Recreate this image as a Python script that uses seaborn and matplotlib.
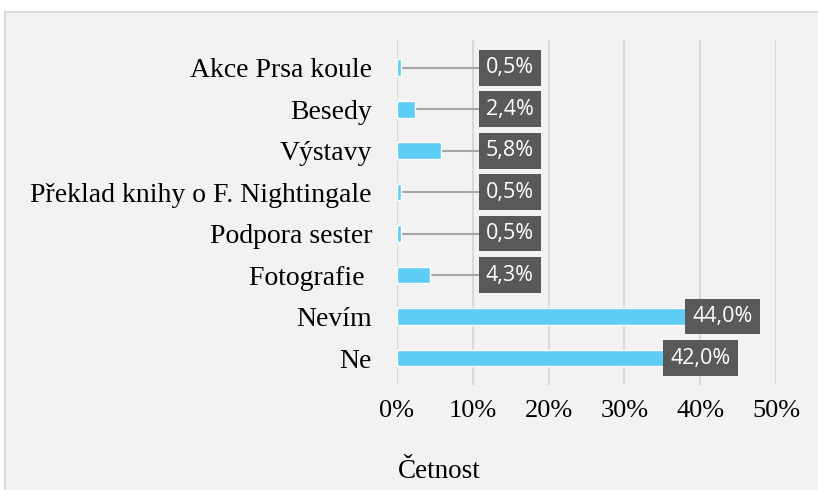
import matplotlib
matplotlib.use('Agg')
import matplotlib.pyplot as plt
import matplotlib.patches as patches
import pandas as pd
import seaborn as sns

categories = ['Akce Prsa koule', 'Besedy', 'Výstavy', 'Překlad knihy o F. Nightingale',
              'Podpora sester', 'Fotografie ', 'Nevím', 'Ne']
values = [0.5, 2.4, 5.8, 0.5, 0.5, 4.3, 44.0, 42.0]
x_ticks = [0, 10, 20, 30, 40, 50]

df = pd.DataFrame({'kategorie': categories, 'podil': values})

sns.set_theme(style='white')
plt.rcParams['font.family'] = ['Liberation Serif', 'DejaVu Serif']

fig = plt.figure(figsize=(8.18, 4.9), dpi=100)
fig.patch.set_facecolor('white')
# chart area background with border (cut off at right/bottom like the source)
fig.patches.append(patches.Rectangle((5 / 818, -0.1), 1.1, 1 - 12 / 490 + 0.1,
                                     transform=fig.transFigure, facecolor='#F2F2F2',
                                     edgecolor='#D9D9D9', linewidth=1.5, zorder=-5))

ax = fig.add_axes([397 / 818, 105 / 490, (776 - 397) / 818, (450 - 105) / 490])
ax.patch.set_alpha(0)

sns.barplot(data=df, x='podil', y='kategorie', order=categories, color='#5ECDF4',
            saturation=1, width=0.4, ax=ax, zorder=3)

ax.set_xlim(0, 50)
ax.set_ylim(7.65, -0.67)
ax.set_xticks(x_ticks)
ax.set_xticklabels([f'{t}%' for t in x_ticks])
ax.grid(axis='x', color='#D9D9D9', linewidth=1.6, zorder=0)
ax.set_axisbelow(True)
for s in ax.spines.values():
    s.set_visible(False)
ax.tick_params(axis='y', length=0, pad=18, labelsize=20, labelcolor='black')
ax.tick_params(axis='x', length=0, pad=11, labelsize=19, labelcolor='black')
ax.set_xlabel('')
ax.set_ylabel('')

# data labels: small values get a leader line to a box placed to the right
for i, v in enumerate(values):
    label = f'{v:.1f}%'.replace('.', ',')
    if v < 10:
        lx = 14.9
        ax.plot([v, lx], [i, i], color='#A6A6A6', linewidth=1.5, zorder=2)
    else:
        lx = v - (1.0 if v > 43 else 2.0)
    ax.text(lx, i, label, ha='center', va='center', color='white', fontsize=15.5,
            family=['Open Sans', 'DejaVu Sans'], zorder=5,
            bbox=dict(boxstyle='square,pad=0.34', facecolor='#595959', edgecolor='none'))

fig.text(439 / 818, 1 - 471 / 490, 'Četnost', ha='center', va='center', fontsize=19.5,
         color='black')

fig.savefig('out.png', dpi=100)
